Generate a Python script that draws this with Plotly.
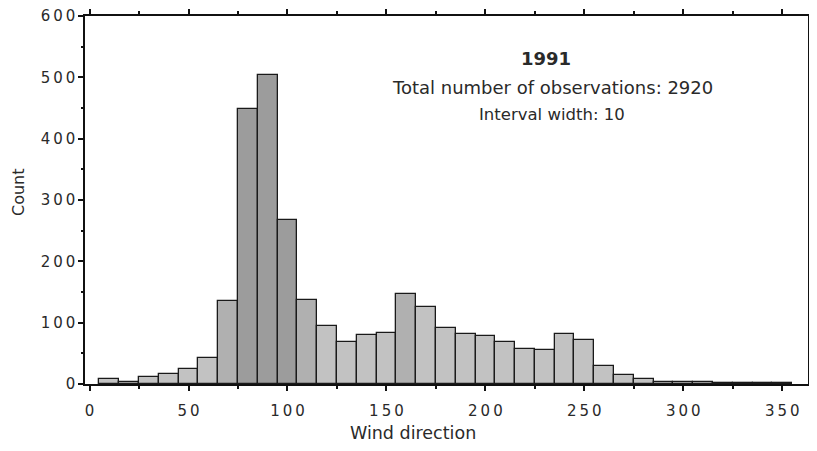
import plotly.graph_objects as go

# Wind direction bin centres (interval width 10)
directions = [10, 20, 30, 40, 50, 60, 70, 80, 90, 100, 110, 120, 130, 140, 150,
              160, 170, 180, 190, 200, 210, 220, 230, 240, 250, 260, 270, 280,
              290, 300, 310, 320, 330, 340, 350]
counts = [8, 4, 12, 17, 24, 42, 135, 448, 504, 268, 137, 94, 69, 80, 83,
          147, 125, 92, 82, 79, 68, 57, 56, 81, 71, 29, 15, 8,
          4, 3, 4, 2, 1, 2, 2]

x_tick_vals = [0, 50, 100, 150, 200, 250, 300, 350]
x_tick_labels = ["0", "50", "100", "150", "200", "250", "300", "350"]
y_tick_vals = [0, 100, 200, 300, 400, 500, 600]
y_tick_labels = ["0", "100", "200", "300", "400", "500", "600"]

title_year = "1991"
info_lines = ["Total number of observations: 2920", "Interval width: 10"]
x_title = "Wind direction"
y_title = "Count"


def spaced(s):
    return "\u2009".join(list(s))


light = "#c2c2c2"
mid = "#b0b0b0"
dark = "#9c9c9c"
colors = []
for d, c in zip(directions, counts):
    if c > 250:
        colors.append(dark)
    elif c > 130:
        colors.append(mid)
    else:
        colors.append(light)

fig = go.Figure()
fig.add_trace(go.Bar(
    x=directions, y=counts, width=10,
    marker=dict(color=colors, line=dict(color="#1a1a1a", width=1.3)),
    showlegend=False,
))

font_family = "DejaVu Sans"
axis_color = "#111111"
text_color = "#2a2a2a"

fig.add_annotation(x=0.637, y=531, xref="paper", yref="y", text="<b>" + title_year + "</b>",
                   showarrow=False, font=dict(family=font_family, size=18, color=text_color))
fig.add_annotation(x=0.646, y=484, xref="paper", yref="y", text=info_lines[0],
                   showarrow=False, font=dict(family=font_family, size=18, color=text_color))
fig.add_annotation(x=0.646, y=440, xref="paper", yref="y", text=info_lines[1],
                   showarrow=False, font=dict(family=font_family, size=16.5, color=text_color))
fig.add_annotation(x=0.4537, y=-0.132, xref="paper", yref="paper", text=x_title,
                   showarrow=False, yanchor="middle",
                   font=dict(family=font_family, size=17.5, color=text_color))
fig.add_annotation(x=-0.092, y=0.523, xref="paper", yref="paper", text=y_title,
                   showarrow=False, textangle=-90, xanchor="center", yanchor="middle",
                   font=dict(family=font_family, size=16, color=text_color))

fig.update_layout(
    width=809, height=443,
    margin=dict(l=77, r=9, t=8, b=67),
    paper_bgcolor="white", plot_bgcolor="white",
    bargap=0,
    font=dict(family=font_family, color=text_color),
)
fig.update_xaxes(
    range=[-2.3, 363], tickmode="array", automargin=False,
    tickvals=x_tick_vals, ticktext=[spaced(t) for t in x_tick_labels],
    ticks="outside", ticklen=5, tickwidth=1.5, tickcolor=axis_color,
    ticklabelstandoff=7, ticklabeloverflow="allow",
    minor=dict(dtick=25, ticks="outside", ticklen=3, tickcolor=axis_color),
    showline=True, linecolor=axis_color, linewidth=1.5, mirror="ticks",
    showgrid=False, zeroline=False,
    tickfont=dict(family=font_family, size=15, color=text_color),
)
fig.update_yaxes(
    range=[0, 600], tickmode="array", automargin=False,
    tickvals=y_tick_vals, ticktext=[spaced(t) for t in y_tick_labels],
    ticks="outside", ticklen=5, tickwidth=1.5, tickcolor=axis_color,
    ticklabeloverflow="allow",
    minor=dict(dtick=50, ticks="outside", ticklen=2, tickcolor=axis_color),
    showline=True, linecolor=axis_color, linewidth=1.5, mirror=True,
    showgrid=False, zeroline=False,
    tickfont=dict(family=font_family, size=15, color=text_color),
)

fig.write_html("out.html")
